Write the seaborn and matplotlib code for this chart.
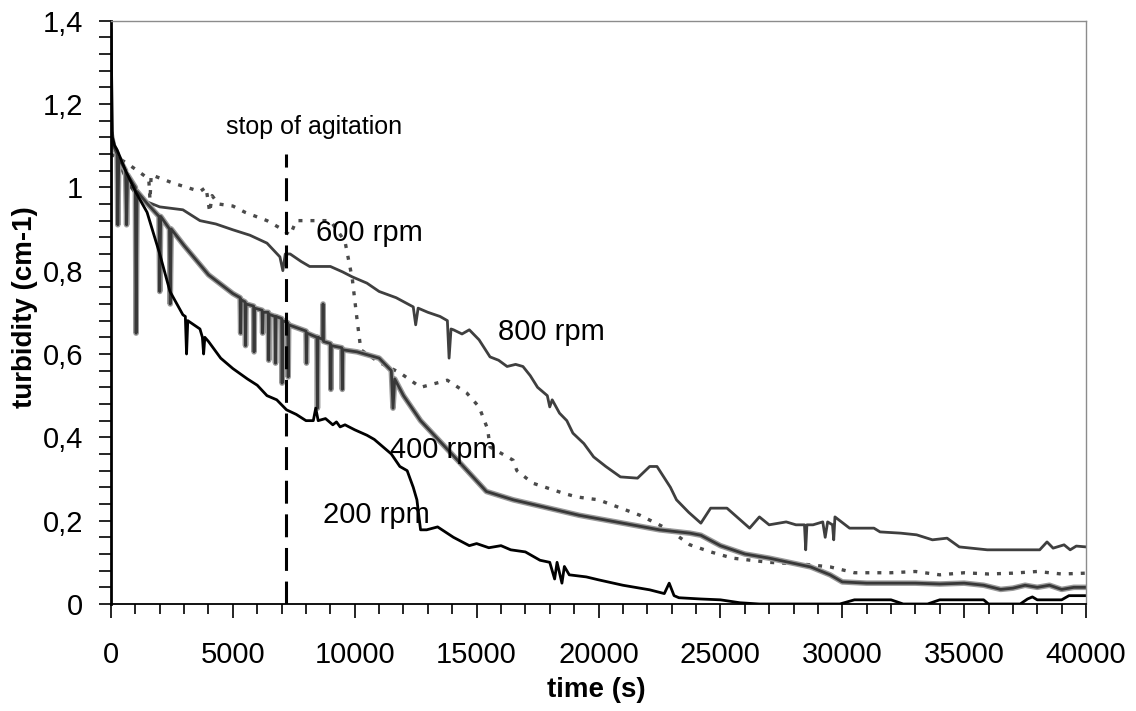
import seaborn as sns
import numpy as np
import pandas as pd
import matplotlib.pyplot as plt
import matplotlib.patheffects as pe
from matplotlib.ticker import MultipleLocator, FuncFormatter

# turbidity curves (time in s, turbidity in cm-1)
t200 = [0, 60, 150, 250, 600, 1000, 1480, 2000, 2420, 2950, 3050, 3100, 3150, 3650, 3750, 3800, 3850,
        4000, 4500, 5000, 5600, 6000, 6400, 6800, 7200, 7600, 8000, 8300, 8400, 8500, 8800, 9100, 9250,
        9400, 9600, 10000, 10500, 10800, 11200, 11500, 11850, 12150,
        12400, 12550, 12700, 12950, 13400, 14050, 14700, 15000, 15500, 16000, 16400, 17000, 17600,
        18000, 18200, 18300, 18500, 18600, 18800, 19500, 20000, 21000, 22100, 22700, 22900, 23100,
        23300, 24200, 25000, 25800, 26600, 29900, 30500, 32000, 32500, 33500, 34000, 35800, 36000,
        37300, 37600, 37800, 38000, 39000, 39300, 40000]
y200 = [1.38, 1.12, 1.10, 1.09, 1.04, 0.99, 0.94, 0.84, 0.75, 0.694, 0.69, 0.60, 0.68, 0.66, 0.64, 0.60, 0.64,
        0.63, 0.59, 0.565, 0.54, 0.525, 0.50, 0.49, 0.466, 0.455, 0.44, 0.44, 0.47, 0.44, 0.445, 0.43, 0.437,
        0.425, 0.43, 0.418, 0.405, 0.395, 0.375, 0.36, 0.33, 0.32,
        0.28, 0.25, 0.178, 0.178, 0.185, 0.16, 0.14, 0.145, 0.135, 0.14, 0.13, 0.125, 0.105,
        0.10, 0.06, 0.10, 0.05, 0.09, 0.07, 0.065, 0.058, 0.045, 0.034, 0.025, 0.05, 0.02,
        0.015, 0.012, 0.01, 0.003, 0.0, 0.0, 0.01, 0.01, 0.0, 0.0, 0.01, 0.01, 0.0,
        0.0, 0.012, 0.017, 0.01, 0.01, 0.02, 0.02]

t400 = [0, 100, 250, 280, 320, 600, 640, 680, 1000, 1030, 1070, 1500, 1970, 2000, 2040, 2400, 2430, 2470,
        3000, 4000, 5000, 5300, 5320, 5340, 5500, 5520, 5540, 5850, 5870, 5890, 6200, 6220, 6240,
        6450, 6470, 6490, 6730, 6750, 6770, 7000, 7020, 7040, 7250, 7270, 7290, 8000, 8020, 8040,
        8450, 8470, 8490, 8680, 8700, 8720, 9000, 9020, 9040, 9470, 9490, 9510, 10100, 11000, 11500,
        11570, 11640, 12000, 12700, 13500, 14300, 15400, 16500, 17600, 19200, 20900, 22500, 23750,
        24200, 25000, 26000, 27000, 28700, 29500, 30000, 31000, 32000, 33000, 34000, 35000, 35800,
        36500, 37000, 37500, 38000, 38500, 39000, 39500, 40000]
y400 = [1.13, 1.10, 1.08, 0.91, 1.07, 1.04, 0.91, 1.03, 1.0, 0.65, 0.99, 0.96, 0.93, 0.75, 0.93, 0.90, 0.72, 0.90,
        0.86, 0.79, 0.745, 0.735, 0.65, 0.73, 0.725, 0.62, 0.72, 0.715, 0.605, 0.71, 0.705, 0.65, 0.70,
        0.70, 0.585, 0.695, 0.69, 0.578, 0.69, 0.685, 0.53, 0.68, 0.675, 0.545, 0.67, 0.655, 0.578, 0.65,
        0.64, 0.47, 0.64, 0.635, 0.72, 0.63, 0.625, 0.515, 0.62, 0.615, 0.515, 0.61, 0.605, 0.59, 0.56,
        0.47, 0.54, 0.50, 0.44, 0.39, 0.34, 0.27, 0.25, 0.235, 0.213, 0.195, 0.178, 0.17,
        0.165, 0.14, 0.12, 0.11, 0.089, 0.07, 0.053, 0.05, 0.05, 0.05, 0.048, 0.05, 0.045,
        0.035, 0.038, 0.045, 0.04, 0.045, 0.035, 0.04, 0.04]

t600 = [0, 650, 1200, 1550, 1600, 1650, 2550, 3650, 3900, 4050, 4150, 4400, 5000, 5500, 6400, 7000, 7350,
        7600, 8150, 9000, 9600, 9900, 10100, 10250, 10500, 11000, 11850, 12700, 13800, 14600, 15100,
        15450, 15550, 16500, 16650, 17300, 18550, 19100, 20000, 21700, 22900, 23750, 24600, 25500,
        27000, 28500, 29500, 30500, 32000, 33000, 34000, 35000, 36000, 37000, 38000, 39000, 40000]
y600 = [1.08, 1.058, 1.035, 1.02, 0.97, 1.03, 1.01, 0.99, 1.0, 0.94, 0.98, 0.96, 0.955, 0.94, 0.92, 0.90, 0.885,
        0.92, 0.92, 0.92, 0.87, 0.78, 0.68, 0.61, 0.60, 0.58, 0.555, 0.52, 0.537, 0.506, 0.473,
        0.42, 0.377, 0.345, 0.32, 0.29, 0.266, 0.257, 0.25, 0.213, 0.178, 0.142, 0.125, 0.11,
        0.10, 0.095, 0.089, 0.075, 0.075, 0.078, 0.07, 0.075, 0.072, 0.074, 0.078, 0.072, 0.074]

t800 = [0, 300, 700, 1000, 1480, 2000, 2950, 3650, 4300, 5000, 5700, 6400, 6930, 7050, 7150, 7350, 7800,
        8150, 9000, 9500, 9900, 10500, 11000, 11700, 12400, 12500, 12600, 13000, 13500, 13800, 13870,
        13950, 14050, 14400, 14700, 15100, 15550, 15900, 16250, 16600,
        16900, 17200, 17500, 17900, 18000, 18100, 18400, 18700, 18950, 19400, 19800, 20300, 20900,
        21600, 22100, 22400, 22950, 23200, 23700, 24200, 24600, 25270, 26200, 26600, 27000, 27700,
        28100, 28450, 28500, 28550, 28800, 29200, 29300, 29400, 29600, 29650, 29700, 30300, 31300,
        31550, 32400, 33050, 33700, 34300, 34800, 35950, 38100, 38400, 38650, 39100, 39350, 39600, 40000]
y800 = [1.12, 1.06, 1.01, 0.985, 0.965, 0.953, 0.946, 0.92, 0.912, 0.898, 0.885, 0.866, 0.833, 0.80, 0.84,
        0.84, 0.822, 0.81, 0.81, 0.797, 0.785, 0.77, 0.75, 0.735, 0.713, 0.67, 0.71, 0.70, 0.69, 0.68, 0.59,
        0.66, 0.658, 0.648, 0.658, 0.634, 0.593, 0.585, 0.57, 0.575,
        0.57, 0.548, 0.52, 0.50, 0.473, 0.49, 0.458, 0.44, 0.41, 0.385, 0.353, 0.33, 0.305,
        0.302, 0.33, 0.33, 0.28, 0.25, 0.22, 0.194, 0.23, 0.23, 0.182, 0.209, 0.19, 0.197,
        0.19, 0.19, 0.13, 0.19, 0.19, 0.197, 0.16, 0.197, 0.19, 0.154, 0.209, 0.182, 0.182,
        0.173, 0.17, 0.166, 0.154, 0.158, 0.137, 0.13, 0.13, 0.149, 0.134, 0.142, 0.13, 0.139, 0.137]

stop_time = 7200
stop_top = 1.08

labels = ["200 rpm", "400 rpm", "600 rpm", "800 rpm"]
label_x = [10900, 13620, 10580, 18050]
label_y = [0.214, 0.37, 0.89, 0.653]

sns.set_style("ticks")
plt.rcParams['font.family'] = ['Liberation Sans', 'DejaVu Sans']
plt.rcParams.update({"text.color": "black", "axes.labelcolor": "black",
                     "xtick.color": "black", "ytick.color": "black"})

fig = plt.figure(figsize=(11.36, 7.11), dpi=100)
ax = fig.add_axes([0.0977, 0.1505, 0.8583, 0.8205])

d200 = pd.DataFrame({"t": t200, "y": y200})
d400 = pd.DataFrame({"t": t400, "y": y400})
d600 = pd.DataFrame({"t": t600, "y": y600})
d800 = pd.DataFrame({"t": t800, "y": y800})

sns.lineplot(data=d800, x="t", y="y", ax=ax, color="#3f3f3f", lw=2.0, estimator=None, sort=False)
sns.lineplot(data=d600, x="t", y="y", ax=ax, color="#4a4a4a", lw=2.4, estimator=None, sort=False,
             dashes=False, linestyle=(0, (1.2, 2.4)))
sns.lineplot(data=d400, x="t", y="y", ax=ax, color="#383838", lw=2.0, estimator=None, sort=False)
ax.lines[-1].set_path_effects([pe.Stroke(linewidth=4, foreground="#9a9a9a"), pe.Normal()])
sns.lineplot(data=d200, x="t", y="y", ax=ax, color="black", lw=2.0, estimator=None, sort=False)

ax.vlines(stop_time, 0, stop_top, colors="black", lw=2.2, linestyles=(0, (7.5, 3.5)), zorder=5)
ax.text(8330, 1.145, "stop of agitation", fontsize=18, ha="center", va="center")
for name, lx, ly in zip(labels, label_x, label_y):
    ax.text(lx, ly, name, fontsize=21, ha="center", va="center")

ax.set_xlim(0, 40000)
ax.set_ylim(0, 1.4)
ax.xaxis.set_major_locator(MultipleLocator(5000))
ax.xaxis.set_minor_locator(MultipleLocator(1000))
ax.yaxis.set_major_locator(MultipleLocator(0.2))
ax.yaxis.set_minor_locator(MultipleLocator(0.04))
ax.yaxis.set_major_formatter(FuncFormatter(lambda v, p: f"{v:.1f}".rstrip("0").rstrip(".").replace(".", ",")))
ax.tick_params(axis="x", which="major", length=10, width=1.2, labelsize=21, pad=17)
ax.tick_params(axis="x", which="minor", length=7, width=1.2)
ax.tick_params(axis="y", which="both", length=9, width=1.2, labelsize=21, pad=11)

for s in ["left", "bottom"]:
    ax.spines[s].set_color("black")
ax.spines["left"].set_linewidth(2.0)
ax.spines["bottom"].set_linewidth(1.3)
for s in ["top", "right"]:
    ax.spines[s].set_color("#8c8c8c")
    ax.spines[s].set_linewidth(1.0)

ax.set_xlabel("time (s)", fontsize=20, fontweight="bold")
ax.set_ylabel("turbidity (cm-1)", fontsize=20, fontweight="bold")
ax.xaxis.set_label_coords(0.498, -0.125)
ax.yaxis.set_label_coords(-0.075, 0.509)

fig.savefig("out.png", dpi=100)
